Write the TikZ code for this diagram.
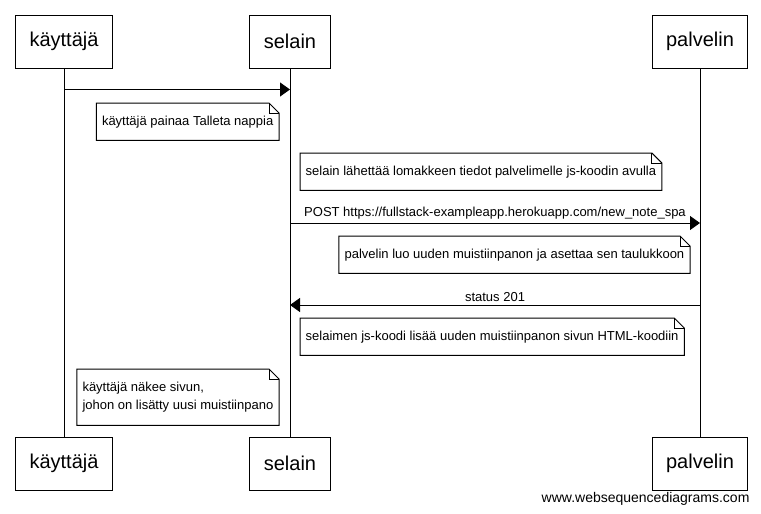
\documentclass[tikz,border=0pt]{standalone}
\usepackage{fontspec}
\setmainfont{Liberation Sans}
\usepackage{tikz}
\usetikzlibrary{arrows.meta}
\tikzset{actor/.style={draw, line width=1pt, inner xsep=14pt, minimum height=53pt, font=\fontsize{20}{24}\selectfont}}
\tikzset{note/.style={inner xsep=5.5pt, inner ysep=0pt, minimum height=37pt, align=left, font=\fontsize{13}{18}\selectfont}}
\tikzset{msg/.style={line width=1pt, -{Triangle[length=10pt,width=14pt]}}}
\tikzset{msglabel/.style={above, inner sep=3pt, font=\fontsize{13}{16}\selectfont}}
\tikzset{life/.style={line width=1pt}}

\begin{document}
\begin{tikzpicture}[x=1pt, y=-1pt]
\useasboundingbox (0,0) rectangle (761,514);
% actors
\node[actor] (u1) at (64,41.5) {käyttäjä};
\node[actor] (s1) at (290,41.5) {selain};
\node[actor] (p1) at (700,41.5) {palvelin};
\node[actor] (u2) at (64,463.5) {käyttäjä};
\node[actor] (s2) at (290,463.5) {selain};
\node[actor] (p2) at (700,463.5) {palvelin};
\foreach \a/\b in {u1/u2, s1/s2, p1/p2} {
 \draw[life] (\a.south) -- (\b.north);
}
% messages
\coordinate (m1) at (0,89.5);
\coordinate (m2) at (0,223);
\coordinate (m3) at (0,305);
\draw[msg] (u1 |- m1) -- (s1 |- m1);
\draw[msg] (s1 |- m2) -- (p1 |- m2) node[msglabel, midway] {POST https://fullstack-exampleapp.herokuapp.com/new\_note\_spa};
\draw[msg] (p1 |- m3) -- (s1 |- m3) node[msglabel, midway] {status 201};
% notes
\node[note, anchor=north east] (n1) at (279,103) {käyttäjä painaa Talleta nappia};
\node[note, anchor=north west] (n2) at (300,153) {selain lähettää lomakkeen tiedot palvelimelle js-koodin avulla};
\node[note, anchor=north east] (n3) at (690,236) {palvelin luo uuden muistiinpanon ja asettaa sen taulukkoon};
\node[note, anchor=north west] (n4) at (300,318) {selaimen js-koodi lisää uuden muistiinpanon sivun HTML-koodiin};
\node[note, anchor=north east, minimum height=56pt] (n5) at (279,369) {käyttäjä näkee sivun,\\johon on lisätty uusi muistiinpano};
\foreach \n in {n1,n2,n3,n4,n5} {
 \draw[life] (\n.south west) -- (\n.north west) -- ([xshift=-10pt]\n.north east) -- ([yshift=-10pt]\n.north east) -- (\n.south east) -- cycle;
 \draw[life] ([xshift=-10pt]\n.north east) |- ([yshift=-10pt]\n.north east);
}
\node[anchor=east, font=\fontsize{14}{16}\selectfont] (web) at (753,499) {www.websequencediagrams.com};
\end{tikzpicture}
\end{document}
